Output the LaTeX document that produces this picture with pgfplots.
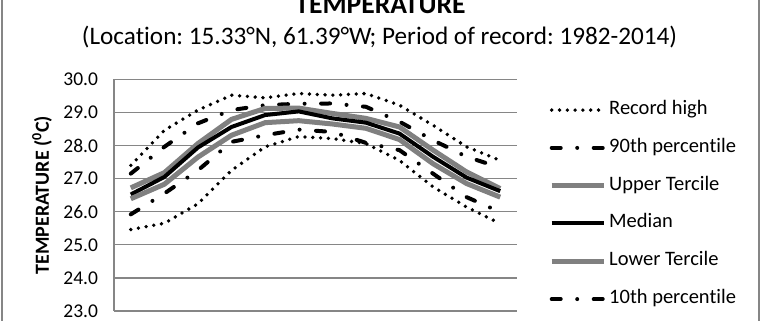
\documentclass[border=0pt]{standalone}
\usepackage{pgfplots}
\usepackage{pgfplotstable}
\pgfplotsset{compat=1.18}
\usepackage{fontspec}
\setmainfont{Carlito}[Ligatures={NoCommon}]
\frenchspacing
\definecolor{gridgray}{RGB}{134,134,134}
\definecolor{tercgray}{RGB}{128,128,128}

\pgfplotstableread{
m  rhigh  p90    upper  median lower  p10    rlow
1  27.40  27.15  26.72  26.52  26.39  25.92  25.46
2  28.46  27.96  27.18  27.05  26.83  26.55  25.65
3  29.07  28.67  28.06  27.94  27.65  27.25  26.24
4  29.52  29.07  28.79  28.56  28.31  28.11  27.25
5  29.44  29.22  29.12  28.92  28.69  28.31  27.96
6  29.57  29.26  29.13  29.03  28.75  28.48  28.27
7  29.52  29.27  28.97  28.82  28.65  28.41  28.21
8  29.57  29.17  28.82  28.69  28.52  28.08  28.06
9  29.22  28.72  28.56  28.36  28.18  27.86  27.55
10 28.61  28.16  27.86  27.66  27.45  27.15  26.75
11 27.96  27.66  27.20  27.03  26.85  26.44  26.14
12 27.55  27.33  26.70  26.62  26.44  25.99  25.64
}\temps

\begin{document}
\begin{tikzpicture}[x=1pt,y=1pt]
\clip (0,0) rectangle (761,321);
\fill[white] (0,0) rectangle (761,321);
\draw[gridgray, line width=2pt] (2,-10) -- (2,340);
\draw[gridgray, line width=2pt] (758.5,-10) -- (758.5,340);
\node[anchor=base, font=\fontsize{27.6}{30}\selectfont\bfseries] at (380.5,307.8) {TEMPERATURE};
\node[anchor=base, font=\fontsize{25.2}{28}\selectfont] at (379.5,276) {(Location: 15.33°N, 61.39°W; Period of record: 1982-2014)};
\begin{axis}[
  at={(114pt,10pt)}, anchor=south west,
  scale only axis, width=403pt, height=231.7pt,
  xmin=0.5, xmax=12.5, ymin=23, ymax=30,
  ytick={23,24,...,30}, xtick=\empty,
  ymajorgrids, major grid style={gridgray, line width=1.3pt},
  axis y line*=left, axis x line*=bottom,
  axis line style={gridgray, line width=1.3pt, -},
  major tick length=0pt,
  yticklabel style={font=\fontsize{19.5}{20}\selectfont, xshift=-12.5pt,
    /pgf/number format/.cd, fixed, fixed zerofill, precision=1, assume math mode=true},
  ylabel={TEMPERATURE (\textsuperscript{0}C)},
  ylabel style={font=\fontsize{20}{22}\selectfont\bfseries, at={(axis description cs:-0.1787,0.5)}, anchor=center},
  legend cell align=left,
  legend style={at={(axis description cs:1.0720,0.9176)}, anchor=north west, draw=none, fill=none,
    font=\fontsize{20.5}{22}\selectfont, row sep=18.8pt, column sep=3pt,
    nodes={inner sep=0pt, text height=14pt, text depth=5pt}},
  legend image code/.code={\draw[#1] (0pt,0pt) -- (52pt,0pt);},
  cycle list={{black}},
]
\addplot[black, line width=3.8pt, line cap=round, dash pattern=on 0pt off 7.8pt] table[x=m,y=rhigh]{\temps};
\addlegendentry{Record high}
\addplot[black, line width=4pt, line cap=round, dash pattern=on 9pt off 16.5pt on 0pt off 16.5pt] table[x=m,y=p90]{\temps};
\addlegendentry{90th percentile}
\addplot[tercgray, line width=5pt] table[x=m,y=upper]{\temps};
\addlegendentry{Upper Tercile}
\addplot[black, line width=4pt] table[x=m,y=median]{\temps};
\addlegendentry{Median}
\addplot[tercgray, line width=5pt] table[x=m,y=lower]{\temps};
\addlegendentry{Lower Tercile}
\addplot[black, line width=4pt, line cap=round, dash pattern=on 9pt off 16.5pt on 0pt off 16.5pt] table[x=m,y=p10]{\temps};
\addlegendentry{10th percentile}
\addplot[black, line width=3.8pt, line cap=round, dash pattern=on 0pt off 7.8pt, forget plot] table[x=m,y=rlow]{\temps};
\end{axis}
\end{tikzpicture}
\end{document}
